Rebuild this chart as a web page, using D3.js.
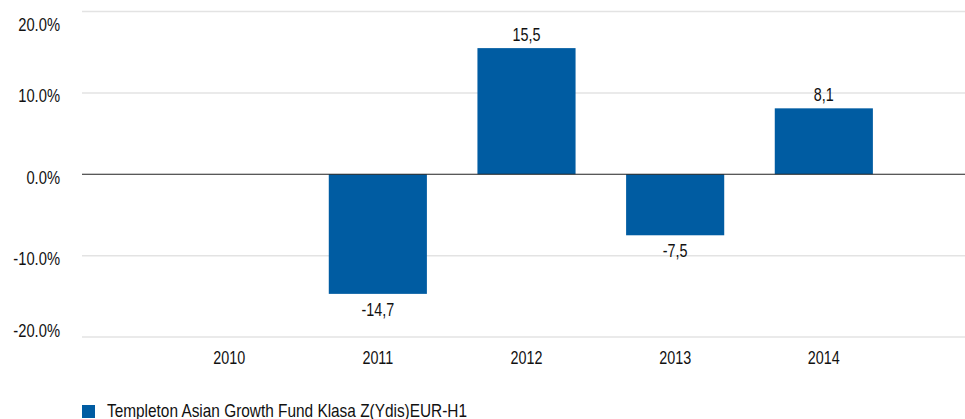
<!DOCTYPE html>
<html>
<head>
<meta charset="utf-8">
<script src="https://cdn.jsdelivr.net/npm/d3@7"></script>
<style>
  body { margin: 0; background: #fff; }
  text { font-family: "Liberation Sans", Arial, sans-serif; fill: #111; }
</style>
</head>
<body>
<div id="chart"></div>
<script>
var years = ["2010", "2011", "2012", "2013", "2014"];
var returns = [null, -14.7, 15.5, -7.5, 8.1];
var yTicks = [-20, -10, 0, 10, 20];
var seriesName = "Templeton Asian Growth Fund Klasa Z(Ydis)EUR-H1";

var width = 965, height = 419;
var left = 82, right = 965;
var narrow = 0.82; // squeeze text to look like a narrow face

var svg = d3.select("#chart").append("svg")
    .attr("width", width)
    .attr("height", height);

// Scales
var x = d3.scaleBand()
    .domain(years)
    .range([left, 971])
    .paddingInner(0.34)
    .paddingOuter(0.66);

var y = d3.scaleLinear()
    .domain([-20, 20])
    .range([337, 11.5]);

var fmt = function(v) { return d3.format(".1f")(v).replace("\u2212", "-"); };
var place = function(px, py, s) { return "translate(" + px + "," + py + ") scale(" + (s || narrow) + ",1)"; };

// grid
svg.append("g").selectAll("line")
    .data(yTicks.filter(function(d) { return d !== 0; }))
    .enter().append("line")
    .attr("x1", left).attr("x2", right)
    .attr("y1", function(d) { return y(d); })
    .attr("y2", function(d) { return y(d); })
    .attr("stroke", "#e3e3e3")
    .attr("stroke-width", 1.5);

// y labels (kept inside the chart area at the ends)
svg.append("g").selectAll("text")
    .data(yTicks)
    .enter().append("text")
    .attr("transform", function(d) { return place(60, Math.max(31, Math.min(337, y(d) + 9.5))); })
    .attr("text-anchor", "end")
    .style("font-size", "18px")
    .text(function(d) { return fmt(d) + "%"; });

// bars
var barData = years.map(function(yr, i) { return { year: yr, value: returns[i] }; })
    .filter(function(d) { return d.value !== null; });

svg.append("g").selectAll("rect")
    .data(barData)
    .enter().append("rect")
    .attr("x", function(d) { return x(d.year); })
    .attr("width", x.bandwidth())
    .attr("y", function(d) { return y(Math.max(0, d.value)); })
    .attr("height", function(d) { return Math.abs(y(d.value) - y(0)); })
    .attr("fill", "#005ca2");

// zero line
svg.append("line")
    .attr("x1", left).attr("x2", right)
    .attr("y1", y(0)).attr("y2", y(0))
    .attr("stroke", "#222")
    .attr("stroke-width", 1.2);

// value labels
svg.append("g").selectAll("text")
    .data(barData)
    .enter().append("text")
    .attr("transform", function(d) {
        return place(x(d.year) + x.bandwidth() / 2, d.value >= 0 ? y(d.value) - 7 : y(d.value) + 22);
    })
    .attr("text-anchor", "middle")
    .style("font-size", "17.5px")
    .text(function(d) { return fmt(d.value).replace(".", ","); });

// x labels
svg.append("g").selectAll("text")
    .data(years)
    .enter().append("text")
    .attr("transform", function(d) { return place(x(d) + x.bandwidth() / 2, 364); })
    .attr("text-anchor", "middle")
    .style("font-size", "17.5px")
    .text(function(d) { return d; });

// legend
svg.append("rect")
    .attr("x", 82).attr("y", 405)
    .attr("width", 13).attr("height", 13)
    .attr("fill", "#005ca2");
svg.append("text")
    .attr("transform", place(107, 417, 0.88))
    .style("font-size", "17.5px")
    .text(seriesName);
</script>
</body>
</html>
